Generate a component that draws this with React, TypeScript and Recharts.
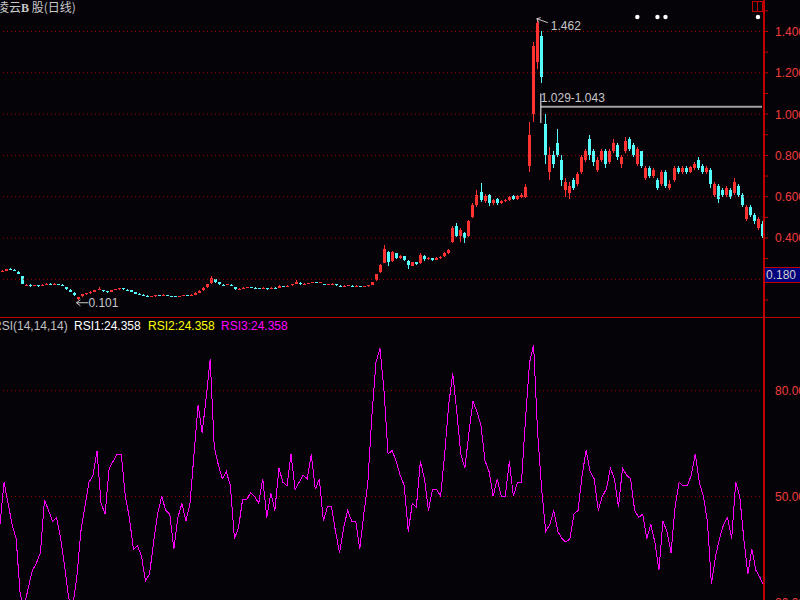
import React from 'react';
import { ComposedChart, Bar, Line, XAxis, YAxis, ReferenceLine, ReferenceDot } from 'recharts';

// Daily candles, prices in thousandths of a yuan (0.001)
const OPEN = [
  238, 242, 250, 246, 236, 215, 170, 172, 168, 170, 168, 172, 178, 176, 178, 174, 162, 150, 135, 106,
  118, 128, 132, 140, 150, 148, 142, 140, 148, 152, 156, 150, 146, 138, 130, 126, 120, 114, 118, 122,
  122, 124, 120, 117, 116, 120, 122, 121, 126, 136, 146, 162, 180, 200, 186, 174, 172, 174, 162, 152,
  155, 160, 162, 160, 157, 156, 158, 154, 160, 160, 167, 165, 170, 178, 184, 176, 178, 182, 185, 182,
  178, 172, 176, 176, 168, 166, 168, 169, 166, 167, 164, 166, 172, 195, 235, 280, 330, 290, 325, 302,
  312, 290, 266, 282, 278, 312, 296, 302, 294, 302, 312, 326, 380, 460, 410, 425, 410, 500, 560, 625,
  580, 610, 570, 588, 570, 578, 585, 602, 590, 600, 600, 750, 1000, 1250, 1380, 950, 720, 800, 860, 780,
  630, 620, 680, 660, 720, 780, 880, 820, 730, 780, 820, 770, 820, 850, 760, 820, 880, 850, 760, 820,
  690, 740, 700, 680, 660, 720, 640, 680, 740, 720, 740, 720, 740, 780, 750, 720, 730, 610, 650, 630,
  610, 630, 620, 650, 610, 490, 550, 510, 450, 470,
];
const CLOSE = [
  242, 248, 246, 240, 228, 178, 174, 168, 172, 168, 172, 178, 176, 178, 176, 170, 152, 140, 122, 112,
  128, 132, 140, 146, 154, 142, 138, 148, 152, 156, 152, 145, 140, 130, 127, 124, 115, 117, 122, 121,
  125, 120, 118, 115, 120, 122, 120, 125, 135, 145, 160, 175, 205, 185, 175, 172, 175, 170, 152, 155,
  160, 162, 160, 158, 155, 160, 152, 160, 158, 168, 165, 168, 176, 186, 175, 178, 181, 186, 182, 185,
  172, 175, 178, 170, 165, 168, 170, 166, 168, 164, 166, 170, 185, 225, 270, 345, 285, 330, 305, 312,
  292, 268, 282, 276, 318, 296, 302, 294, 305, 310, 326, 340, 450, 410, 440, 400, 480, 560, 610, 585,
  605, 570, 582, 570, 580, 585, 600, 590, 602, 610, 645, 900, 1330, 1440, 1180, 800, 800, 760, 800, 680,
  670, 650, 640, 710, 790, 820, 800, 770, 780, 820, 760, 820, 860, 790, 790, 870, 830, 800, 830, 750,
  740, 700, 730, 640, 720, 650, 660, 740, 720, 740, 720, 745, 760, 740, 720, 740, 660, 660, 590, 610,
  640, 600, 670, 610, 560, 550, 510, 480, 490, 410,
];
const HIGH = [
  246, 252, 253, 248, 238, 218, 176, 175, 174, 173, 175, 181, 181, 180, 179, 176, 164, 152, 137, 116,
  130, 134, 142, 148, 162, 150, 144, 150, 154, 158, 158, 152, 147, 140, 132, 128, 122, 119, 124, 124,
  127, 126, 121, 119, 121, 124, 123, 127, 137, 147, 162, 178, 215, 202, 188, 176, 177, 176, 164, 157,
  162, 164, 164, 161, 159, 162, 159, 162, 162, 170, 169, 170, 178, 195, 186, 180, 183, 188, 187, 188,
  179, 177, 180, 177, 170, 170, 172, 170, 170, 168, 168, 172, 188, 228, 275, 366, 335, 336, 328, 318,
  315, 292, 286, 285, 325, 316, 306, 304, 308, 313, 330, 345, 460, 472, 448, 430, 486, 570, 630, 665,
  612, 615, 590, 592, 585, 590, 605, 606, 608, 618, 660, 960, 1350, 1462, 1400, 1000, 840, 820, 930, 800,
  690, 670, 690, 720, 800, 830, 900, 830, 790, 830, 830, 830, 880, 860, 800, 890, 890, 860, 840, 820,
  750, 750, 740, 690, 730, 730, 680, 750, 750, 750, 750, 750, 770, 790, 760, 750, 740, 670, 660, 640,
  650, 640, 690, 660, 620, 560, 560, 520, 500, 480,
];
const LOW = [
  235, 240, 244, 238, 225, 175, 166, 165, 166, 165, 166, 170, 174, 174, 173, 168, 150, 137, 118, 101,
  116, 126, 130, 138, 148, 140, 136, 138, 146, 150, 150, 143, 138, 128, 125, 122, 112, 112, 116, 119,
  120, 118, 116, 113, 114, 118, 118, 119, 124, 134, 144, 160, 178, 182, 172, 170, 170, 168, 150, 150,
  153, 158, 158, 156, 153, 154, 150, 152, 156, 158, 163, 163, 168, 176, 173, 174, 176, 180, 180, 180,
  170, 170, 174, 168, 163, 164, 166, 164, 164, 162, 162, 164, 170, 192, 232, 278, 262, 286, 298, 298,
  288, 252, 262, 270, 276, 290, 292, 290, 292, 298, 308, 322, 375, 405, 380, 375, 405, 495, 550, 575,
  570, 555, 560, 560, 565, 572, 580, 585, 586, 595, 595, 720, 960, 1220, 1150, 760, 680, 740, 790, 650,
  600, 590, 630, 650, 710, 770, 780, 750, 720, 770, 740, 760, 810, 780, 740, 810, 820, 790, 750, 740,
  680, 690, 690, 630, 650, 640, 630, 670, 710, 710, 710, 715, 730, 730, 710, 710, 640, 600, 570, 600,
  600, 590, 610, 600, 550, 480, 500, 470, 440, 400,
];

// RSI(14) values, one per candle
const RSI = [
  42, 54, 48, 42, 38, 22, 19, 24, 29, 31, 34, 49, 46, 43, 44, 38, 30, 21, 19, 27,
  40, 47, 54, 56, 63, 48, 45, 58, 60, 62, 62, 50, 44, 35, 36, 33, 26, 28, 37, 45,
  50, 46, 45, 35, 44, 48, 43, 48, 62, 76, 68, 78, 89, 64, 59, 55, 57, 53, 38, 41,
  49, 49, 51, 50, 48, 55, 44, 51, 46, 58, 54, 53, 62, 52, 54, 56, 55, 62, 52, 55,
  43, 47, 47, 40, 34, 41, 46, 43, 43, 35, 45, 54, 73, 88, 92, 80, 62, 63, 60, 56,
  53, 40, 48, 47, 60, 55, 46, 52, 52, 50, 62, 76, 85, 74, 62, 58, 68, 77, 74, 70,
  60, 57, 50, 55, 50, 50, 60, 50, 54, 54, 72, 88, 93, 68, 52, 40, 42, 46, 40, 38,
  37, 38, 45, 46, 56, 63, 57, 55, 46, 50, 52, 58, 55, 47, 58, 56, 55, 46, 44, 45,
  38, 42, 37, 29, 43, 40, 34, 47, 54, 53, 53, 56, 62, 54, 50, 43, 25, 33, 38, 42,
  44, 38, 54, 50, 38, 28, 35, 29, 27, 24.358,
];

const PRICE_GRID = [0.2, 0.4, 0.6, 0.8, 1.0, 1.2, 1.4];
const PRICE_TICKS = [0.1, 0.2, 0.3, 0.4, 0.5, 0.6, 0.7, 0.8, 0.9, 1.0, 1.1, 1.2, 1.3, 1.4, 1.5];
// 0.200 sits under the cursor-price box, so it is not labelled
const PRICE_LABELS = [0.4, 0.6, 0.8, 1.0, 1.2, 1.4];
const RSI_GRID = [50, 80];
const RSI_TICKS = [20, 50, 80];

const PEAK = { idx: 133, price: 1.462 };
const TROUGH = { idx: 19, price: 0.101 };
const RANGE_MARK = { idx: 134, endIdx: 189, price: 1.036, lo: 0.957, hi: 1.1, text: '1.029-1.043' };
const EVENT_IDX = [158, 163, 165, 188];
const EVENT_PRICE = 1.47;
const CURSOR_LABEL = '0.180';
const TITLE_A = '凌云';
const TITLE_B = 'B';
const TITLE_C = ' 股(日线)';

const BG = '#050308';
const UP = '#ff3232';
const DOWN = '#54fcfc';
const AXIS_RED = '#c00000';
const GRID_RED = '#b00000';
const LABEL_RED = '#f03c3c';
const NUM_FONT = '"Liberation Sans", Arial, sans-serif';

const priceData = OPEN.map((o, i) => ({
  idx: i,
  open: o / 1000,
  close: CLOSE[i] / 1000,
  high: HIGH[i] / 1000,
  low: LOW[i] / 1000,
  range: [LOW[i] / 1000, HIGH[i] / 1000],
}));

const rsiData = RSI.map((v, i) => ({ idx: i, rsi: v }));

const Candle = (props: any) => {
  const { x, y, width, height, payload } = props;
  if (!payload || x == null || y == null) return null;
  const top0 = Math.min(y, y + height);
  const h0 = Math.abs(height);
  const { open, close, high, low } = payload;
  const span = high - low;
  const k = span > 0 ? h0 / span : 0;
  const yO = top0 + (high - open) * k;
  const yC = top0 + (high - close) * k;
  const color = close > open ? UP : close < open ? DOWN : '#ffffff';
  const bx = Math.round(x);
  const bw = Math.max(1, Math.round(width));
  const cx = bx + Math.floor(bw / 2) + 0.5;
  const bt = Math.min(yO, yC);
  const bh = Math.max(1, Math.abs(yC - yO));
  return (
    <g shapeRendering="crispEdges">
      <line x1={cx} x2={cx} y1={top0} y2={top0 + h0} stroke={color} strokeWidth={1} />
      <rect x={bx} y={bt} width={bw} height={bh} fill={color} />
    </g>
  );
};

const PriceTick = (props: any) => {
  const { x, y, payload } = props;
  const v = payload.value;
  const isLabel = PRICE_LABELS.some((p) => Math.abs(p - v) < 1e-6);
  return (
    <g>
      <line x1={x} x2={x + 4} y1={y} y2={y} stroke={AXIS_RED} strokeWidth={1} />
      {isLabel && (
        <text x={x + 11} y={y + 4.5} fill={LABEL_RED} fontSize={12} fontFamily={NUM_FONT}>
          {v.toFixed(3)}
        </text>
      )}
    </g>
  );
};

const RsiTick = (props: any) => {
  const { x, y, payload } = props;
  return (
    <text x={x + 11} y={y + 4.5} fill={LABEL_RED} fontSize={12} fontFamily={NUM_FONT}>
      {Number(payload.value).toFixed(2)}
    </text>
  );
};

const PeakShape = (props: any) => {
  const { cx, cy } = props;
  return (
    <g stroke="#c8c8c8" fill="none">
      <polyline points={`${cx + 4},${cy - 1} ${cx},${cy} ${cx + 2},${cy + 4}`} strokeWidth={1} />
      <line x1={cx} y1={cy} x2={cx + 11} y2={cy + 4} strokeWidth={1} />
      <text x={cx + 14} y={cy + 11} fill="#c8c8c8" stroke="none" fontSize={12} fontFamily={NUM_FONT}>
        {PEAK.price.toFixed(3)}
      </text>
    </g>
  );
};

const TroughShape = (props: any) => {
  const { cx, cy } = props;
  const ay = cy + 3;
  return (
    <g stroke="#c8c8c8" fill="none">
      <polyline points={`${cx + 2},${ay - 3} ${cx - 2},${ay} ${cx + 2},${ay + 3}`} strokeWidth={1} />
      <line x1={cx - 2} y1={ay} x2={cx + 10} y2={ay} strokeWidth={1} />
      <text x={cx + 10} y={ay + 4.5} fill="#c8c8c8" stroke="none" fontSize={12} fontFamily={NUM_FONT}>
        {TROUGH.price.toFixed(3)}
      </text>
    </g>
  );
};

const RangeLabelShape = (props: any) => {
  const { cx, cy } = props;
  return (
    <text x={cx} y={cy - 4.5} fill="#c8c8c8" fontSize={12} fontFamily={NUM_FONT}>
      {RANGE_MARK.text}
    </text>
  );
};

const EventDot = (props: any) => {
  const { cx, cy } = props;
  return <circle cx={cx} cy={cy} r={2.2} fill="#ffffff" />;
};

export default function App() {
  const last = RSI[RSI.length - 1].toFixed(3);
  return (
    <div
      style={{
        position: 'absolute',
        left: 0,
        top: 0,
        width: 800,
        height: 600,
        overflow: 'hidden',
        background: BG,
      }}
    >
      <div style={{ position: 'absolute', left: 0, top: 0 }}>
        <ComposedChart width={800} height={317} data={priceData} margin={{ top: 0, right: 0, bottom: 0, left: 0 }}>
          <XAxis dataKey="idx" type="category" hide />
          <YAxis
            yAxisId="p"
            orientation="right"
            width={36}
            type="number"
            domain={[0.0174, 1.5525]}
            allowDataOverflow
            ticks={PRICE_TICKS}
            interval={0}
            tickSize={0}
            tickMargin={0}
            tickLine={false}
            axisLine={{ stroke: AXIS_RED, strokeWidth: 2 }}
            tick={<PriceTick />}
          />
          {PRICE_GRID.map((g) => (
            <ReferenceLine key={g} yAxisId="p" y={g} stroke={GRID_RED} strokeDasharray="1 3" strokeWidth={1} />
          ))}
          <Bar yAxisId="p" dataKey="range" barSize={3} shape={<Candle />} isAnimationActive={false} />
          <ReferenceLine
            yAxisId="p"
            segment={[
              { x: RANGE_MARK.idx, y: RANGE_MARK.price },
              { x: RANGE_MARK.endIdx, y: RANGE_MARK.price },
            ]}
            stroke="#a0a0a0"
            strokeWidth={2}
          />
          <ReferenceLine
            yAxisId="p"
            segment={[
              { x: RANGE_MARK.idx, y: RANGE_MARK.lo },
              { x: RANGE_MARK.idx, y: RANGE_MARK.hi },
            ]}
            stroke="#ffffff"
            strokeWidth={1}
          />
          <ReferenceDot yAxisId="p" x={RANGE_MARK.idx} y={RANGE_MARK.price} r={0} shape={<RangeLabelShape />} />
          <ReferenceDot yAxisId="p" x={PEAK.idx} y={PEAK.price} r={0} shape={<PeakShape />} />
          <ReferenceDot yAxisId="p" x={TROUGH.idx} y={TROUGH.price} r={0} shape={<TroughShape />} />
          {EVENT_IDX.map((e) => (
            <ReferenceDot key={e} yAxisId="p" x={e} y={EVENT_PRICE} r={2} shape={<EventDot />} />
          ))}
        </ComposedChart>
      </div>
      <div style={{ position: 'absolute', left: 0, top: 317 }}>
        <ComposedChart width={800} height={285} data={rsiData} margin={{ top: 0, right: 0, bottom: 0, left: 0 }}>
          <XAxis dataKey="idx" type="category" hide />
          <YAxis
            yAxisId="r"
            orientation="right"
            width={36}
            type="number"
            domain={[20, 100.94]}
            allowDataOverflow
            ticks={RSI_TICKS}
            interval={0}
            tickSize={0}
            tickMargin={0}
            tickLine={false}
            axisLine={{ stroke: AXIS_RED, strokeWidth: 2 }}
            tick={<RsiTick />}
          />
          {RSI_GRID.map((g) => (
            <ReferenceLine key={g} yAxisId="r" y={g} stroke={GRID_RED} strokeDasharray="1 3" strokeWidth={1} />
          ))}
          <Line yAxisId="r" dataKey="rsi" stroke="#ffffff" strokeWidth={1} dot={false} isAnimationActive={false} shapeRendering="crispEdges" />
          <Line yAxisId="r" dataKey="rsi" stroke="#ffff00" strokeWidth={1} dot={false} isAnimationActive={false} shapeRendering="crispEdges" />
          <Line yAxisId="r" dataKey="rsi" stroke="#ff00ff" strokeWidth={1} dot={false} isAnimationActive={false} shapeRendering="crispEdges" />
        </ComposedChart>
      </div>
      <svg
        width={800}
        height={600}
        style={{ position: 'absolute', left: 0, top: 0, pointerEvents: 'none' }}
      >
        <line x1={0} x2={800} y1={317.5} y2={317.5} stroke={AXIS_RED} strokeWidth={1} />
        <text x={-3} y={12} fill="#c8c8c8" fontSize={12} fontFamily='"Noto Sans CJK SC", sans-serif'>
          {TITLE_A}
          <tspan fontWeight="bold" fontFamily='"Liberation Serif", serif'>{TITLE_B}</tspan>
          {TITLE_C}
        </text>
        <rect x={752.5} y={1.5} width={10} height={10} fill="none" stroke={AXIS_RED} strokeWidth={1} />
        <line x1={757.5} x2={757.5} y1={1.5} y2={11.5} stroke={AXIS_RED} strokeWidth={1} />
        <rect x={764.5} y={267.5} width={36} height={15} fill="#00007c" stroke={AXIS_RED} strokeWidth={1} />
        <text x={766} y={279} fill="#d0d0d0" fontSize={12} fontFamily={NUM_FONT}>
          {CURSOR_LABEL}
        </text>
        <g fontSize={12} fontFamily={NUM_FONT}>
          <text x={-7} y={329.5} fill="#c0c0c0">RSI(14,14,14)</text>
          <text x={74} y={329.5} fill="#ffffff">{`RSI1:${last}`}</text>
          <text x={148} y={329.5} fill="#ffff00">{`RSI2:${last}`}</text>
          <text x={221} y={329.5} fill="#ff00ff">{`RSI3:${last}`}</text>
        </g>
      </svg>
    </div>
  );
}
